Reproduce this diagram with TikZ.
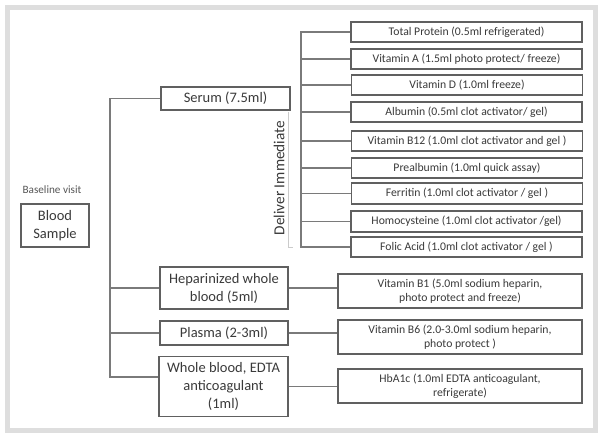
\documentclass[tikz,border=0pt]{standalone}
\usepackage{fontspec}
\setmainfont{Carlito}
\definecolor{frame}{HTML}{DEDEDE}
\definecolor{boxline}{HTML}{606060}
\definecolor{conn}{HTML}{7A7A7A}
\definecolor{txt}{HTML}{3A3A3A}
\begin{document}
\begin{tikzpicture}[x=1pt,y=-1pt,
  bx/.style={draw=boxline,line width=1.2pt,fill=white,text=txt,align=center,inner sep=1pt},
  big/.style={bx,font=\fontsize{14.5}{18}\selectfont},
  small/.style={bx,font=\fontsize{11.7}{14}\selectfont,minimum width=231pt,minimum height=20pt},
  wide/.style={bx,font=\fontsize{11.7}{14.5}\selectfont,minimum width=244pt,minimum height=34pt},
  cn/.style={draw=conn,line width=1.6pt}]
\useasboundingbox (0,0) rectangle (604,438);
\fill[white] (0,0) rectangle (604,438);
\draw[frame,line width=5pt] (7.5,7.5) rectangle (595.5,430);
% left
\node[text=txt!85,font=\fontsize{11.2}{13}\selectfont] (bl) at (52,190) {Baseline visit};
\node[big,minimum width=68pt,minimum height=43pt] (blood) at (55,225.5) {Blood\\Sample};
\node[big,minimum width=129pt,minimum height=23pt] (serum) at (225.5,98.5) {Serum (7.5ml)};
\node[big,minimum width=128pt,minimum height=42pt] (hep) at (224,288) {Heparinized whole\\blood (5ml)};
\node[big,minimum width=128pt,minimum height=24pt] (plasma) at (224,333) {Plasma (2-3ml)};
\node[big,minimum width=129pt,minimum height=60pt] (edta) at (223.5,386.5) {Whole blood, EDTA\\anticoagulant\\(1ml)};
% right serum tests
\node[small] (tp) at (466.5,32) {Total Protein (0.5ml refrigerated)};
\node[small] (va) at (466.5,59) {Vitamin A (1.5ml photo protect/ freeze)};
\node[small] (vd) at (467,85) {Vitamin D (1.0ml freeze)};
\node[small] (alb) at (466.5,112) {Albumin (0.5ml clot activator/ gel)};
\node[small] (b12) at (467,141) {Vitamin B12 (1.0ml clot activator and gel )};
\node[small] (pre) at (467,168) {Prealbumin (1.0ml quick assay)};
\node[small,minimum height=21pt] (fer) at (467,193.5) {Ferritin (1.0ml clot activator / gel )};
\node[small,minimum height=21pt] (hom) at (466.5,221.5) {Homocysteine (1.0ml clot activator /gel)};
\node[small] (fol) at (466.5,247) {Folic Acid (1.0ml clot activator / gel )};
\node[wide] (b1) at (460,291) {Vitamin B1 (5.0ml sodium heparin,\\photo protect and freeze)};
\node[wide] (b6) at (460,337) {Vitamin B6 (2.0-3.0ml sodium heparin,\\photo protect )};
\node[wide] (hba) at (460,386) {HbA1c (1.0ml EDTA anticoagulant,\\refrigerate)};
% deliver immediate
\node[rotate=90,text=txt,font=\fontsize{15.3}{17}\selectfont] (del) at (279,178) {Deliver Immediate};
\draw[frame!80!gray,line width=0.8pt] (288,112) -- (288,247) -- (293,247);
% connectors left tree
\coordinate (j) at (110,377);
\draw[cn] (serum.west) -| (j) -- (edta.west |- j);
\draw[cn] (hep.west) -- (hep.west -| j);
\draw[cn] (plasma.west) -- (plasma.west -| j);
% right tree
\coordinate (r) at (301,0);
\draw[cn] (tp.west) -| (r |- fol.west) -- (fol.west);
\foreach \n in {va,vd,alb,b12,pre,fer,hom}{\draw[cn] (\n.west) -- (\n.west -| r);}
\draw[cn] (hep.east) -- (hep.east -| b1.west);
\draw[cn] (plasma.east) -- (plasma.east -| b6.west);
\draw[cn] (edta.east) -- (edta.east -| hba.west);
\end{tikzpicture}
\end{document}
